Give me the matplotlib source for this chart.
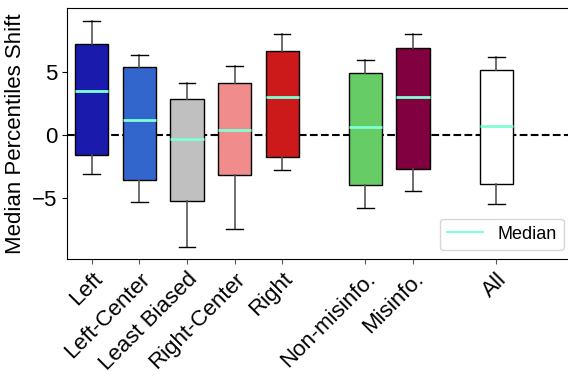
import matplotlib
matplotlib.use('Agg')
import matplotlib.pyplot as plt
from matplotlib.lines import Line2D

plt.rcParams['font.family'] = ['Liberation Sans', 'DejaVu Sans']

labels = ['Left', 'Left-Center', 'Least Biased', 'Right-Center', 'Right',
          'Non-misinfo.', 'Misinfo.', 'All']
positions = [1, 2, 3, 4, 5, 6.75, 7.75, 9.5]
whislo = [-3.1, -5.3, -8.9, -7.5, -2.8, -5.8, -4.45, -5.5]
q1 = [-1.55, -3.6, -5.25, -3.2, -1.75, -3.95, -2.7, -3.9]
med = [3.5, 1.2, -0.35, 0.4, 3.0, 0.65, 3.0, 0.7]
q3 = [7.2, 5.4, 2.85, 4.1, 6.7, 4.9, 6.95, 5.15]
whishi = [9.1, 6.35, 4.15, 5.5, 8.05, 6.0, 8.05, 6.2]
colors = ['#1a1aad', '#3366cc', '#c0c0c0', '#f08c8c', '#cc1a1a',
          '#66cc66', '#800040', '#ffffff']

stats = []
for i in range(len(labels)):
    stats.append({'label': labels[i], 'whislo': whislo[i], 'q1': q1[i],
                  'med': med[i], 'q3': q3[i], 'whishi': whishi[i], 'fliers': []})

fig = plt.figure(figsize=(5.68, 3.77), dpi=100)
# right spine sits past the figure edge, like the reference
ax = fig.add_axes([0.118, 0.313, 0.905, 0.666])

bp = ax.bxp(stats, positions=positions, widths=0.7, patch_artist=True,
            showfliers=False,
            boxprops=dict(edgecolor='black', linewidth=1),
            whiskerprops=dict(color='#555555', linewidth=1.2),
            capprops=dict(color='black', linewidth=1),
            medianprops=dict(color='#7fffd4', linewidth=2))
for patch, c in zip(bp['boxes'], colors):
    patch.set_facecolor(c)

ax.axhline(0, color='black', linestyle='--', linewidth=1.5, zorder=0.5)

ax.set_xlim(0.48, 11.28)
ax.set_ylim(-9.85, 10.1)
ax.set_yticks([-5, 0, 5])
ax.tick_params(axis='both', labelsize=16)
ax.tick_params(axis='x', colors='#555555', labelcolor='black')
ax.set_xticks(positions)
ax.set_xticklabels(labels, rotation=45, ha='right', rotation_mode='anchor')
ax.set_ylabel('Median Percentiles Shift', fontsize=16)

ax.legend([Line2D([0], [0], color='#7fffd4', linewidth=1.5)], ['Median'],
          loc='lower right', fontsize=13, bbox_to_anchor=(0.984, 0.0))

fig.savefig('out.png', dpi=100)
